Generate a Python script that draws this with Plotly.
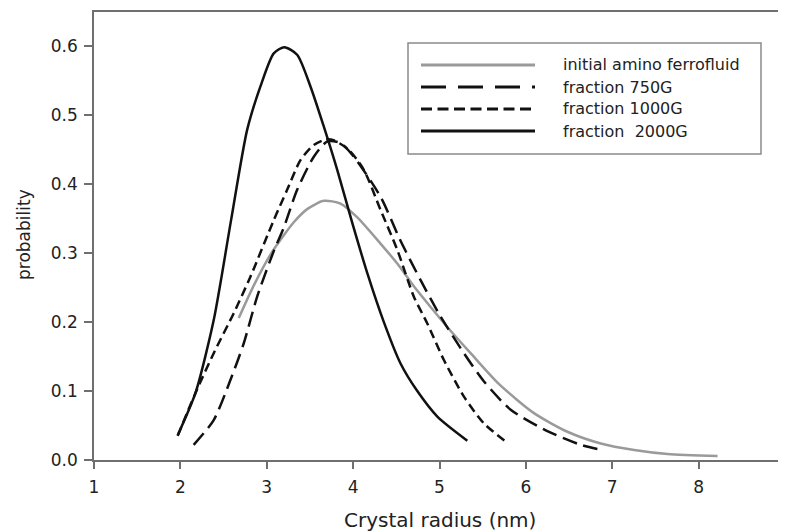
import plotly.graph_objects as go

# ---- data ----
x_2000 = [1.969, 2.174, 2.386, 2.587, 2.773, 2.927, 3.081, 3.205, 3.352, 3.506, 3.660,
          3.816, 3.990, 4.167, 4.356, 4.549, 4.743, 4.975, 5.322]
y_2000 = [0.036, 0.097, 0.203, 0.348, 0.479, 0.542, 0.590, 0.599, 0.588, 0.542, 0.484,
          0.421, 0.344, 0.270, 0.200, 0.140, 0.100, 0.063, 0.028]

x_1000 = [1.969, 2.174, 2.386, 2.618, 2.811, 3.081, 3.236, 3.390, 3.545, 3.680, 3.773,
          3.950, 4.124, 4.317, 4.511, 4.703, 4.859, 5.051, 5.283, 5.515, 5.786]
y_1000 = [0.035, 0.097, 0.155, 0.213, 0.266, 0.348, 0.392, 0.435, 0.457, 0.465, 0.464,
          0.450, 0.421, 0.363, 0.305, 0.237, 0.198, 0.145, 0.092, 0.053, 0.025]

x_750 = [2.154, 2.386, 2.579, 2.733, 2.889, 3.081, 3.197, 3.352, 3.545, 3.700, 3.854,
         4.008, 4.317, 4.549, 4.781, 5.013, 5.283, 5.515, 5.824, 6.249, 6.635, 6.828]
y_750 = [0.022, 0.058, 0.116, 0.169, 0.237, 0.303, 0.337, 0.392, 0.440, 0.462, 0.460,
         0.440, 0.382, 0.318, 0.261, 0.208, 0.155, 0.114, 0.073, 0.042, 0.022, 0.016]

x_init = [2.676, 2.849, 3.043, 3.197, 3.313, 3.468, 3.660, 3.854, 4.048, 4.317,
          4.511, 4.703, 4.897, 5.090, 5.360, 5.690, 6.094, 6.481, 6.867, 7.253, 7.640, 8.219]
y_init = [0.206, 0.253, 0.298, 0.326, 0.345, 0.364, 0.376, 0.372, 0.352, 0.314,
          0.285, 0.252, 0.222, 0.193, 0.155, 0.110, 0.068, 0.041, 0.024, 0.0145, 0.0087, 0.0058]

series_names = ["initial amino ferrofluid", "fraction 750G", "fraction 1000G", "fraction  2000G"]
x_ticks = [1, 2, 3, 4, 5, 6, 7, 8, 9]
y_ticks = [0.0, 0.1, 0.2, 0.3, 0.4, 0.5, 0.6]

FONT = "DejaVu Sans"
GREY = "#9a9a9a"
BLACK = "#111111"
AXC = "#6f6f6f"

styles = [
    dict(x=x_init, y=y_init, color=GREY, dash="solid", ldash="solid"),
    dict(x=x_750, y=y_750, color=BLACK, dash="15px,7px", ldash="25px,12px"),
    dict(x=x_1000, y=y_1000, color=BLACK, dash="9px,5px", ldash="11px,5.5px"),
    dict(x=x_2000, y=y_2000, color=BLACK, dash="solid", ldash="solid"),
]

fig = go.Figure()
for name, s in zip(series_names, styles):
    fig.add_trace(go.Scatter(
        x=s["x"], y=s["y"], mode="lines", name=name, showlegend=False,
        line=dict(color=s["color"], width=2.5, dash=s["dash"], shape="spline", smoothing=0.7),
    ))

# page is 786x532 but the page body has an 8px margin, so the figure sits at (8, 8)
OFF = 8
W, H = 786 - OFF, 532 - OFF
# plot area in page pixels: x 94..785, y 12..460
P_L, P_R, P_T, P_B = 94, 785, 12, 460
ML, MR, MT, MB = P_L - OFF, 786 - P_R, P_T - OFF, 532 - P_B
PW, PH = P_R - P_L, P_B - P_T

def px(xp):
    return (xp - P_L) / PW

def py(yp):
    return (P_B - yp) / PH

shapes = []
annotations = []
# legend box
shapes.append(dict(type="rect", xref="paper", yref="paper",
                   x0=px(408), x1=px(761), y0=py(154), y1=py(43),
                   line=dict(color="#8a8a8a", width=1.5), fillcolor="white", layer="above"))
rows = [65, 87, 109, 131]
for name, s, ry in zip(series_names, styles, rows):
    shapes.append(dict(type="line", xref="paper", yref="paper",
                       x0=px(421), x1=px(535), y0=py(ry), y1=py(ry),
                       line=dict(color=s["color"], width=3, dash=s["ldash"]), layer="above"))
    annotations.append(dict(xref="paper", yref="paper", x=px(561), y=py(ry),
                            text=name.replace("  ", "&nbsp; "), showarrow=False,
                            xanchor="left", yanchor="middle",
                            font=dict(family=FONT, size=16, color="#222")))

# axis titles
annotations.append(dict(xref="paper", yref="paper", x=0.5, y=py(520), text="Crystal radius (nm)",
                        showarrow=False, xanchor="center", yanchor="middle",
                        font=dict(family=FONT, size=20, color="#222")))
annotations.append(dict(xref="paper", yref="paper", x=px(24), y=py(235), text="probability",
                        showarrow=False, xanchor="center", yanchor="middle", textangle=-90,
                        font=dict(family=FONT, size=17, color="#222")))

fig.update_layout(
    width=W, height=H,
    margin=dict(l=ML, r=MR, t=MT, b=MB, autoexpand=False),
    paper_bgcolor="white", plot_bgcolor="white",
    shapes=shapes, annotations=annotations,
    font=dict(family=FONT, size=17, color="#222"),
)
fig.update_xaxes(range=[1, 9], tickvals=x_ticks, ticktext=[str(v) for v in x_ticks],
                 showgrid=False, zeroline=False, showline=True, mirror=True, automargin=False,
                 linecolor=AXC, linewidth=1.5, ticks="outside", ticklen=7, tickwidth=1.5,
                 tickcolor=AXC, ticklabelstandoff=4, ticklabeloverflow="allow",
                 tickfont=dict(family=FONT, size=17, color="#222"))
fig.update_yaxes(range=[0, 0.65], tickvals=y_ticks, ticktext=[f"{v:.1f}" for v in y_ticks],
                 showgrid=False, zeroline=False, showline=True, mirror=True, automargin=False,
                 linecolor=AXC, linewidth=1.5, ticks="outside", ticklen=8, tickwidth=1.5,
                 tickcolor=AXC, ticklabelstandoff=3,
                 tickfont=dict(family=FONT, size=17, color="#222"))

fig.write_html("out.html")
